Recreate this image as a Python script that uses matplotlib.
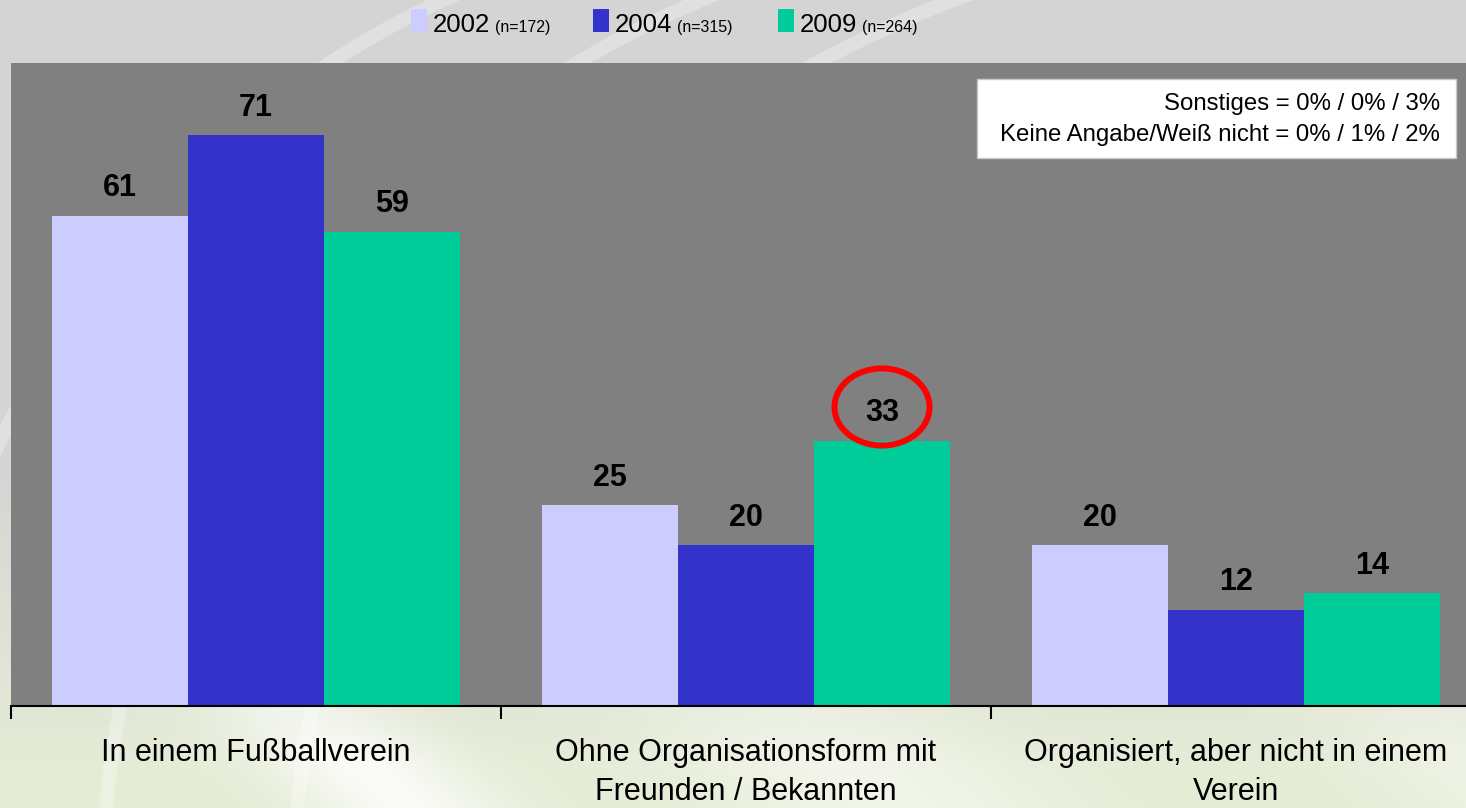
import numpy as np
import matplotlib
matplotlib.use("Agg")
import matplotlib.pyplot as plt
from matplotlib.patches import Rectangle, Ellipse, Arc

plt.rcParams['font.family'] = ['Liberation Sans', 'DejaVu Sans']

# data
categories = ["In einem Fußballverein",
              "Ohne Organisationsform mit\nFreunden / Bekannten",
              "Organisiert, aber nicht in einem\nVerein"]
years = ["2002", "2004", "2009"]
sample_sizes = ["(n=172)", "(n=315)", "(n=264)"]
values_2002 = [61, 25, 20]
values_2004 = [71, 20, 12]
values_2009 = [59, 33, 14]
colors = ["#ccccff", "#3333cc", "#00cc99"]
note_lines = ["Sonstiges = 0% / 0% / 3%",
              "Keine Angabe/Weiß nicht = 0% / 1% / 2%"]
highlight = (1, 2)  # (category index, series index) circled in red

series = [values_2002, values_2004, values_2009]

fig = plt.figure(figsize=(14.66, 8.08), dpi=100)

# background: grey on top, light green at bottom, with soft white swooshes
bg = fig.add_axes([0, 0, 1, 1], zorder=-10)
h, w = 404, 733
yy, xx = np.mgrid[0:1:h*1j, 0:1:w*1j]
top = np.array([212, 212, 212]) / 255
bot = np.array([229, 236, 214]) / 255
t = np.clip((yy - 0.55) / 0.4, 0, 1)[..., None]
img = top * (1 - t) + bot * t
# diagonal light bands in the lower part
for off, wid, amp in [(0.25, 0.06, 0.8), (0.55, 0.10, 0.5), (0.95, 0.08, 0.4)]:
    d = (xx * 0.9 + (1 - yy) * 0.55) - off
    band = np.exp(-(d / wid) ** 2) * amp * np.clip((yy - 0.75) / 0.2, 0, 1)
    img = img * (1 - band[..., None]) + band[..., None]
bg.imshow(img, extent=[0, 1, 0, 1], aspect='auto', origin='upper')
for cx, r in [(0.55, 0.62), (0.75, 0.68), (0.95, 0.75)]:
    bg.add_patch(Arc((cx, -0.1), 2 * r, 2 * 1.2, theta1=90, theta2=180,
                     color='white', alpha=0.3, lw=10))
bg.set_xlim(0, 1)
bg.set_ylim(0, 1)
bg.axis('off')

ax = fig.add_axes([11 / 1466, 102 / 808, 1470 / 1466, 643 / 808])
ax.set_facecolor('#808080')

x = np.arange(len(categories))
bw = 0.2776
offsets = [-bw, 0, bw]
for s, (vals, col, off) in enumerate(zip(series, colors, offsets)):
    bars = ax.bar(x + off, vals, width=bw, color=col, zorder=2)
    for i, b in enumerate(bars):
        ax.annotate(str(vals[i]), xy=(b.get_x() + bw / 2, vals[i]),
                    xytext=(0, 14), textcoords='offset points',
                    ha='center', va='baseline', fontsize=22,
                    fontweight='bold', color='black')
        if (i, s) == highlight:
            ax.add_patch(Ellipse((b.get_x() + bw / 2, vals[i] + 4.2),
                                 0.194, 9.6, fill=False,
                                 edgecolor='#ff0000', lw=4.3, zorder=5))

ax.set_xlim(-0.5, 2.5)
ax.set_ylim(0, 80)
ax.set_yticks([])
ax.set_xticks(x)
ax.set_xticklabels(categories, fontsize=22, linespacing=1.38)
ax.tick_params(axis='x', which='major', length=0, pad=23)
ax.set_xticks([-0.5, 0.5, 1.5], minor=True)
ax.tick_params(axis='x', which='minor', length=9, width=1.5, color='black',
               direction='out')
for sp in ['left', 'top', 'right']:
    ax.spines[sp].set_visible(False)
ax.spines['bottom'].set_linewidth(1.5)
ax.spines['bottom'].set_color('black')

# note box
fig.patches.append(Rectangle((977 / 1466, 1 - 158 / 808), 479 / 1466, 79 / 808,
                             transform=fig.transFigure, facecolor='white',
                             edgecolor='#c8c8c8', lw=1, zorder=3))
fig.text(1440 / 1466, 1 - 104 / 808, note_lines[0], ha='right', va='center',
         fontsize=17.3, zorder=4)
fig.text(1440 / 1466, 1 - 135 / 808, note_lines[1], ha='right', va='center',
         fontsize=17.3, zorder=4)

# legend
leg_x = [411, 593, 778]
for lx, yr, n, col in zip(leg_x, years, sample_sizes, colors):
    fig.patches.append(Rectangle((lx / 1466, 1 - 32 / 808), 16 / 1466, 23 / 808,
                                 transform=fig.transFigure, facecolor=col,
                                 edgecolor='none'))
    tx = fig.text((lx + 22) / 1466, 1 - 32 / 808, yr, ha='left',
                  va='baseline', fontsize=18.5)
    fig.canvas.draw()
    bb = tx.get_window_extent()
    fig.text((bb.x1 + 5) / 1466, 1 - 32 / 808, n, ha='left', va='baseline',
             fontsize=11.5)

fig.savefig('out.png', dpi=100)
